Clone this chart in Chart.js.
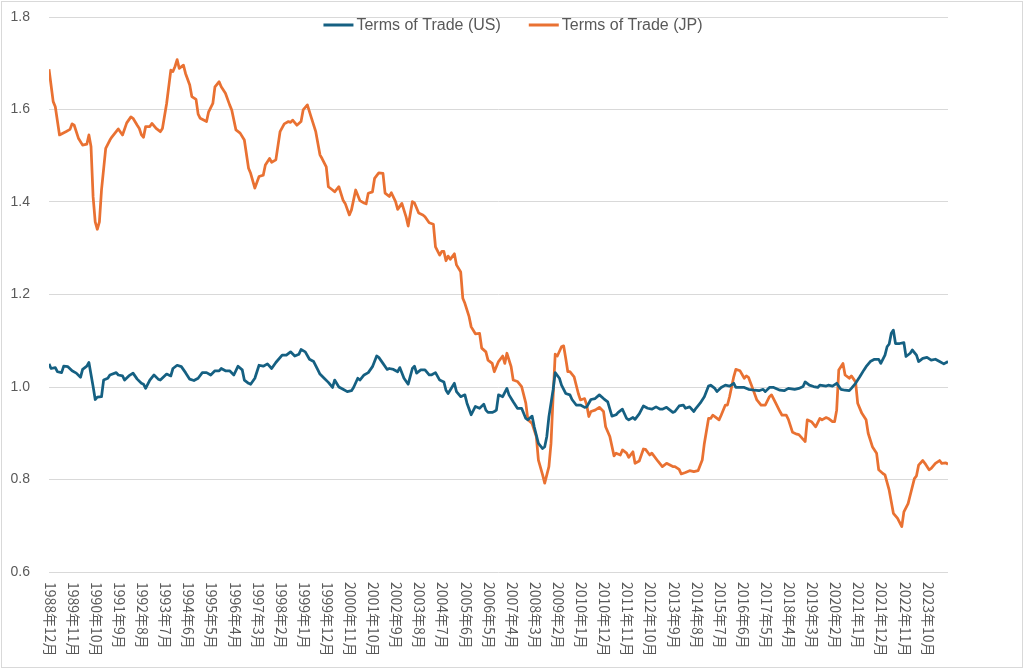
<!DOCTYPE html>
<html lang="ja">
<head>
<meta charset="UTF-8">
<title>Terms of Trade</title>
<script src="https://cdn.jsdelivr.net/npm/chart.js@4.4.1/dist/chart.umd.min.js"></script>
<style>
    body { margin: 0; padding: 0; background: #fff; }
    #wrap { width: 1024px; height: 669px; position: relative; }
</style>
</head>
<body>
<div id="wrap"><canvas id="myChart"></canvas></div>
<script>
// month index 0 = 1988年12月
const tickLabels = ['1988年12月','1989年11月','1990年10月','1991年9月','1992年8月','1993年7月','1994年6月',
    '1995年5月','1996年4月','1997年3月','1998年2月','1999年1月','1999年12月','2000年11月','2001年10月',
    '2002年9月','2003年8月','2004年7月','2005年6月','2006年5月','2007年4月','2008年3月','2009年2月',
    '2010年1月','2010年12月','2011年11月','2012年10月','2013年9月','2014年8月','2015年7月','2016年6月',
    '2017年5月','2018年4月','2019年3月','2020年2月','2021年1月','2021年12月','2022年11月','2023年10月'];
const tickStep = 11;
const lastMonth = 428;

const usMonths = [0,1,3,4,6,7,9,11,13,15,16,18,19,21,22,23,25,26,28,29,32,33,35,36,38,40,42,44,45,46,48,50,52,53,56,58,59,61,63,65,67,69,71,73,75,77,79,81,82,84,86,88,90,92,93,95,96,98,100,102,104,106,108,111,113,115,117,119,120,122,124,126,128,129,131,133,135,136,138,140,142,144,145,147,148,150,152,154,156,157,159,161,162,164,166,167,169,171,173,174,175,177,179,181,182,184,186,188,189,190,193,194,196,198,199,201,203,205,207,208,209,211,212,213,214,216,218,219,221,223,225,227,228,230,231,233,235,236,237,238,240,241,243,244,246,248,249,251,253,255,256,258,260,262,264,266,268,270,271,273,275,276,278,279,281,283,285,287,289,291,292,294,297,298,300,302,303,305,307,308,310,312,314,315,317,318,320,322,324,326,327,329,331,333,336,338,340,341,343,345,348,350,352,355,357,359,360,362,364,366,367,370,371,373,375,377,379,381,382,384,386,388,389,391,393,395,396,398,399,400,401,402,403,405,407,408,410,411,413,414,416,418,420,422,424,426,428];
const usValues = [1.050,1.040,1.042,1.033,1.031,1.045,1.044,1.035,1.030,1.021,1.038,1.045,1.053,1.001,0.973,0.978,0.979,1.015,1.019,1.026,1.031,1.026,1.024,1.015,1.024,1.030,1.017,1.008,1.006,0.997,1.015,1.026,1.017,1.015,1.028,1.024,1.040,1.047,1.044,1.031,1.017,1.014,1.019,1.031,1.031,1.026,1.035,1.035,1.040,1.035,1.035,1.026,1.045,1.037,1.015,1.008,1.006,1.019,1.047,1.045,1.050,1.040,1.053,1.069,1.069,1.076,1.067,1.071,1.081,1.076,1.060,1.055,1.037,1.028,1.019,1.010,0.999,1.015,1.000,0.995,0.990,0.992,0.999,1.019,1.015,1.026,1.031,1.044,1.067,1.064,1.051,1.038,1.040,1.038,1.033,1.042,1.019,1.006,1.040,1.045,1.030,1.037,1.037,1.026,1.026,1.031,1.015,1.011,0.993,0.986,1.008,0.990,0.979,0.983,0.965,0.940,0.958,0.954,0.963,0.950,0.945,0.945,0.947,0.950,0.983,0.979,0.997,0.983,0.968,0.954,0.954,0.932,0.929,0.937,0.914,0.878,0.867,0.871,0.893,0.936,0.994,1.031,1.019,1.004,0.986,0.983,0.973,0.961,0.961,0.956,0.957,0.973,0.975,0.983,0.975,0.968,0.937,0.940,0.945,0.952,0.932,0.929,0.934,0.930,0.942,0.959,0.954,0.952,0.957,0.952,0.952,0.956,0.945,0.947,0.959,0.961,0.954,0.957,0.947,0.954,0.965,0.979,1.002,1.004,0.997,0.990,0.999,1.004,1.002,1.008,0.999,0.999,0.999,0.995,0.993,0.992,0.995,0.990,0.999,0.999,0.993,0.992,0.997,0.995,0.997,1.001,1.011,1.004,1.001,0.999,1.004,1.002,1.004,1.002,1.008,0.995,0.993,0.992,0.997,1.008,1.022,1.037,1.044,1.055,1.060,1.060,1.051,1.069,1.087,1.093,1.116,1.123,1.094,1.094,1.096,1.066,1.073,1.080,1.069,1.055,1.062,1.064,1.058,1.060,1.055,1.050,1.055];

const jpMonths = [0,2,3,5,8,10,11,12,14,16,18,19,20,21,22,23,24,25,27,29,30,33,35,37,39,40,42,43,44,45,46,48,49,51,53,54,56,58,59,60,61,62,64,65,67,68,70,71,72,75,76,78,79,81,82,84,86,87,89,91,93,95,96,98,100,102,103,105,106,108,110,112,114,115,116,118,120,121,123,125,127,129,130,132,133,135,136,138,140,141,143,144,146,148,150,151,152,154,155,157,159,160,162,163,165,166,168,170,171,173,174,176,178,179,181,183,184,186,187,188,189,190,191,193,194,196,197,198,200,201,203,205,206,208,209,211,212,214,216,217,218,220,221,223,225,227,228,230,232,233,235,236,238,239,240,241,242,244,245,246,247,248,250,252,253,255,256,257,258,260,262,264,265,267,269,270,272,273,275,276,278,279,281,283,284,286,287,290,292,294,297,298,300,301,303,305,307,309,311,312,314,315,316,317,319,320,322,323,324,326,327,329,331,332,333,335,337,339,341,343,344,346,348,349,351,352,354,356,357,360,361,363,365,367,368,370,371,373,374,375,376,378,379,381,382,384,385,387,389,390,392,394,395,397,398,400,401,402,404,406,407,409,410,412,413,414,416,417,419,420,422,424,425,427,428];
const jpValues = [1.687,1.617,1.606,1.545,1.552,1.557,1.569,1.566,1.538,1.523,1.525,1.545,1.520,1.411,1.357,1.341,1.357,1.426,1.516,1.534,1.541,1.558,1.545,1.571,1.584,1.581,1.566,1.559,1.545,1.540,1.563,1.563,1.570,1.559,1.552,1.559,1.613,1.685,1.682,1.693,1.708,1.689,1.696,1.678,1.653,1.628,1.622,1.590,1.581,1.574,1.595,1.613,1.649,1.660,1.649,1.635,1.610,1.599,1.556,1.549,1.534,1.473,1.462,1.430,1.455,1.458,1.480,1.494,1.486,1.491,1.552,1.569,1.574,1.572,1.577,1.566,1.574,1.599,1.610,1.581,1.552,1.502,1.494,1.476,1.433,1.426,1.422,1.433,1.404,1.397,1.372,1.383,1.426,1.403,1.398,1.396,1.419,1.422,1.451,1.463,1.462,1.419,1.412,1.420,1.401,1.384,1.397,1.368,1.348,1.401,1.398,1.376,1.372,1.368,1.355,1.352,1.303,1.285,1.293,1.293,1.273,1.283,1.276,1.288,1.264,1.249,1.192,1.181,1.152,1.130,1.115,1.116,1.084,1.076,1.058,1.051,1.033,1.055,1.067,1.051,1.073,1.044,1.015,1.012,1.001,0.965,0.929,0.921,0.893,0.842,0.810,0.792,0.828,0.878,0.979,1.071,1.067,1.087,1.089,1.062,1.033,1.033,1.022,0.986,0.972,0.975,0.961,0.936,0.947,0.950,0.956,0.947,0.914,0.893,0.851,0.857,0.853,0.864,0.857,0.848,0.860,0.835,0.840,0.866,0.865,0.853,0.857,0.839,0.828,0.835,0.828,0.828,0.822,0.812,0.815,0.819,0.817,0.819,0.842,0.878,0.932,0.932,0.939,0.936,0.929,0.939,0.961,0.961,0.979,1.022,1.038,1.035,1.019,1.024,1.021,0.997,0.972,0.961,0.961,0.979,0.983,0.965,0.947,0.939,0.939,0.930,0.902,0.898,0.897,0.882,0.929,0.925,0.914,0.932,0.929,0.934,0.932,0.925,0.925,0.950,1.037,1.051,1.026,1.019,1.024,1.011,0.965,0.943,0.929,0.900,0.871,0.857,0.821,0.813,0.810,0.777,0.752,0.727,0.716,0.698,0.730,0.748,0.766,0.802,0.808,0.831,0.841,0.835,0.821,0.824,0.835,0.841,0.835,0.836,0.833];

const usColor = '#156082';
const jpColor = '#E97132';
const textColor = '#595959';

function toPoints(months, values) {
    return months.map((m, i) => ({x: m, y: values[i]}));
}

// 外枠と白背景
const framePlugin = {
    id: 'frame',
    beforeDraw(chart) {
        const ctx = chart.ctx;
        ctx.save();
        ctx.fillStyle = '#ffffff';
        ctx.fillRect(0, 0, chart.width, chart.height);
        ctx.strokeStyle = '#d9d9d9';
        ctx.lineWidth = 1;
        ctx.strokeRect(1.5, 1.5, chart.width - 3, chart.height - 3);
        ctx.restore();
    }
};

// x軸ラベル(90度回転)
const xLabelPlugin = {
    id: 'xLabels',
    afterDraw(chart) {
        const ctx = chart.ctx;
        const xs = chart.scales.x;
        ctx.save();
        ctx.fillStyle = textColor;
        ctx.font = '14px "Noto Sans CJK JP", "Liberation Sans", sans-serif';
        ctx.textAlign = 'left';
        ctx.textBaseline = 'middle';
        tickLabels.forEach((lab, k) => {
            const px = xs.getPixelForValue(k * tickStep);
            ctx.save();
            ctx.translate(px + 1, chart.chartArea.bottom + 10);
            ctx.rotate(Math.PI / 2);
            ctx.fillText(lab, 0, 0);
            ctx.restore();
        });
        ctx.restore();
    }
};

// 凡例(プロット内上部)
const legendPlugin = {
    id: 'innerLegend',
    afterDraw(chart) {
        const ctx = chart.ctx;
        const sets = chart.data.datasets;
        const lineLen = 30, gap = 3, spacing = 28;
        ctx.save();
        ctx.font = '16px "Liberation Sans", Arial, sans-serif';
        const widths = sets.map(d => lineLen + gap + ctx.measureText(d.label).width);
        const total = widths.reduce((a, b) => a + b, 0) + spacing * (sets.length - 1);
        let x = chart.width / 2 - total / 2 + 1;
        const y = 25;
        sets.forEach((d, i) => {
            ctx.strokeStyle = d.borderColor;
            ctx.lineWidth = 3;
            ctx.beginPath();
            ctx.moveTo(x, y);
            ctx.lineTo(x + lineLen, y);
            ctx.stroke();
            ctx.fillStyle = textColor;
            ctx.textAlign = 'left';
            ctx.textBaseline = 'middle';
            ctx.fillText(d.label, x + lineLen + gap, y + 1);
            x += widths[i] + spacing;
        });
        ctx.restore();
    }
};

const ctx = document.getElementById('myChart').getContext('2d');
const myChart = new Chart(ctx, {
    type: 'line',
    data: {
        datasets: [{
            label: 'Terms of Trade (US)',
            data: toPoints(usMonths, usValues),
            borderColor: usColor,
            backgroundColor: usColor,
            borderWidth: 2.75,
            pointRadius: 0,
            tension: 0,
            borderJoinStyle: 'round'
        }, {
            label: 'Terms of Trade (JP)',
            data: toPoints(jpMonths, jpValues),
            borderColor: jpColor,
            backgroundColor: jpColor,
            borderWidth: 2.75,
            pointRadius: 0,
            tension: 0,
            borderJoinStyle: 'round'
        }]
    },
    options: {
        responsive: true,
        maintainAspectRatio: false,
        animation: false,
        layout: {
            padding: {top: 17, right: 76, bottom: 97, left: 0}
        },
        plugins: {
            legend: {display: false},
            tooltip: {enabled: false}
        },
        scales: {
            x: {
                type: 'linear',
                min: 0,
                max: lastMonth,
                grid: {display: false},
                border: {display: false},
                ticks: {display: false},
                afterFit(s) { s.height = 0; }
            },
            y: {
                min: 0.6,
                max: 1.8,
                grid: {color: '#d9d9d9', drawTicks: true, tickLength: 19, tickColor: 'rgba(0,0,0,0)', lineWidth: 1},
                border: {display: false},
                ticks: {
                    stepSize: 0.2,
                    color: textColor,
                    padding: 0,
                    font: {family: '"Liberation Sans", Arial, sans-serif', size: 14},
                    callback: v => v.toFixed(1)
                },
                afterFit(s) { s.width = 49; }
            }
        }
    },
    plugins: [framePlugin, xLabelPlugin, legendPlugin]
});
</script>
</body>
</html>
